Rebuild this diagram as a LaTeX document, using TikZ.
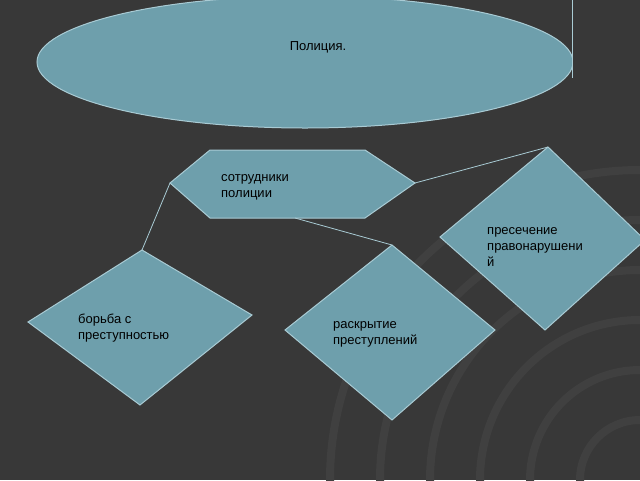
\documentclass[tikz,border=0pt]{standalone}
\usepackage{fontspec}
\setmainfont{Liberation Sans}
\definecolor{bgcol}{HTML}{383838}
\definecolor{arccol}{HTML}{404040}
\definecolor{shapecol}{HTML}{6E9FAC}
\definecolor{edgecol}{HTML}{A9CBD4}
\tikzstyle{figbox} = [fill=shapecol, draw=edgecol, line width=1pt]
\tikzstyle{link} = [draw=edgecol, line width=0.8pt]
\tikzstyle{lbl} = [font=\fontsize{13}{16}\selectfont, align=left, anchor=west, inner sep=0pt]
\begin{document}
\begin{tikzpicture}[x=1pt,y=-1pt]

\fill[bgcol] (0,0) rectangle (640,480);
\useasboundingbox (0,0) rectangle (640,480);
\foreach \r in {60,110,160,210,260,310}
  \draw[arccol, line width=8pt] (640,480) circle (\r);

\begin{scope}
\clip (0,0) rectangle (572,480);
\draw[figbox] (305,62) ellipse (268 and 66);
\end{scope}
\draw[edgecol, line width=1pt] (572,0) -- (572,78);
\node[font=\fontsize{13}{16}\selectfont] (police) at (318,47) {Полиция.};

% hexagon
\coordinate (hl) at (170,183);
\coordinate (hr) at (415,183);
\coordinate (hb) at (295,218);
\draw[figbox] (hl) -- (210,150) -- (365,150) -- (hr) -- (365,218) -- (210,218) -- cycle;
\node[lbl] (staff) at (221,187) {сотрудники\\полиции};

% diamonds
\coordinate (rt) at (548,147);
\draw[figbox] (rt) -- (645,240) -- (545,330) -- (440,237) -- cycle;
\node[lbl] (stop) at (487,247) {пресечение\\правонарушени\\й};

\coordinate (lt) at (142,250);
\draw[figbox] (lt) -- (252,315) -- (140,405) -- (28,322) -- cycle;
\node[lbl] (fight) at (78,328) {борьба с\\преступностью};

\coordinate (mt) at (392,245);
\draw[figbox] (mt) -- (495,330) -- (392,420) -- (285,330) -- cycle;
\node[lbl] (solve) at (333,334) {раскрытие\\преступлений};

% links
\draw[link] (hr) -- (rt);
\draw[link] (hl) -- (lt);
\draw[link] (hb) -- (mt);

\end{tikzpicture}
\end{document}
